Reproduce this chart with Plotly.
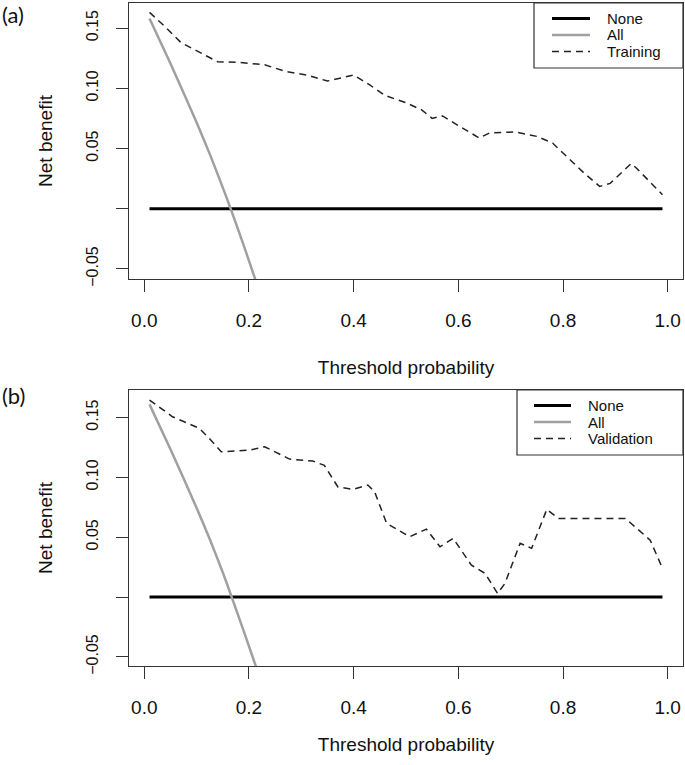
import plotly.graph_objects as go

# ---------------- data ----------------
thr_none = [0.01, 0.99]
nb_none = [0.0, 0.0]

# Treat-all curves
all_x_a = [0.01, 0.05, 0.10, 0.125, 0.15, 0.165, 0.19, 0.215]
all_y_a = [0.158, 0.1205, 0.0715, 0.0455, 0.0175, 0.0, -0.0305, -0.0625]
all_x_b = [0.01, 0.05, 0.10, 0.125, 0.15, 0.167, 0.19, 0.22]
all_y_b = [0.161, 0.1235, 0.0745, 0.0485, 0.0205, 0.0, -0.0285, -0.0665]

# Training model curve
train_x = [0.01, 0.04, 0.07, 0.10, 0.14, 0.18, 0.23, 0.27, 0.31, 0.35, 0.40, 0.43,
           0.46, 0.50, 0.53, 0.55, 0.57, 0.60, 0.64, 0.66, 0.71, 0.75, 0.78, 0.82,
           0.84, 0.87, 0.89, 0.93, 0.94, 0.99]
train_y = [0.163, 0.151, 0.138, 0.131, 0.122, 0.1215, 0.1195, 0.114, 0.111, 0.106, 0.111, 0.103,
           0.094, 0.088, 0.082, 0.075, 0.077, 0.069, 0.0587, 0.063, 0.0637, 0.060, 0.0545, 0.038,
           0.0296, 0.0185, 0.021, 0.0374, 0.0338, 0.0116]

# Validation model curve
valid_x = [0.01, 0.054, 0.105, 0.124, 0.147, 0.201, 0.23, 0.2775, 0.322, 0.344, 0.37, 0.399,
           0.427, 0.44, 0.463, 0.507, 0.539, 0.565, 0.59, 0.625, 0.651, 0.675, 0.689, 0.718,
           0.74, 0.769, 0.791, 0.919, 0.9665, 0.99]
valid_y = [0.1646, 0.1506, 0.141, 0.1326, 0.1214, 0.1228, 0.1256, 0.1153, 0.1136, 0.110, 0.092, 0.090,
           0.0936, 0.088, 0.0616, 0.0504, 0.0568, 0.042, 0.049, 0.0267, 0.0198, 0.003, 0.0114, 0.0449,
           0.0407, 0.0733, 0.0657, 0.0657, 0.0476, 0.024]

x_ticks = [0.0, 0.2, 0.4, 0.6, 0.8, 1.0]
x_ticklabels = ["0.0", "0.2", "0.4", "0.6", "0.8", "1.0"]
y_ticks = [-0.05, 0.0, 0.05, 0.10, 0.15]
y_ticklabels = ["\u22120.05", "", "0.05", "0.10", "0.15"]

legend_names_a = ["None", "All", "Training"]
legend_names_b = ["None", "All", "Validation"]

# ---------------- figure ----------------
W, H = 685, 765
FONT = "Liberation Sans"
BLACK = "#000000"
GRAY = "#A0A0A0"
DASH = "#222222"
AX = "#333333"
TXT = "#111111"


def px_y(p):
    return 1 - p / H


def px_x(p):
    return p / W


fig = go.Figure()

panels = [
    ("x", "y", all_x_a, all_y_a, train_x, train_y, legend_names_a),
    ("x2", "y2", all_x_b, all_y_b, valid_x, valid_y, legend_names_b),
]
styles = [
    dict(color=BLACK, width=3),
    dict(color=GRAY, width=2.5),
    dict(color=DASH, width=1.5, dash="7px,5px"),
]
for xa, ya, ax_, ay_, mx, my, names in panels:
    fig.add_trace(go.Scatter(x=thr_none, y=nb_none, mode="lines", name=names[0],
                             line=styles[0], xaxis=xa, yaxis=ya))
    fig.add_trace(go.Scatter(x=ax_, y=ay_, mode="lines", name=names[1],
                             line=dict(**styles[1], shape="spline", smoothing=0.5),
                             xaxis=xa, yaxis=ya))
    fig.add_trace(go.Scatter(x=mx, y=my, mode="lines", name=names[2],
                             line=styles[2], xaxis=xa, yaxis=ya))

xdom = [px_x(129), px_x(683)]


def xaxis_common(standoff):
    return dict(
        range=[-0.0292, 1.0292], tickvals=x_ticks, ticktext=x_ticklabels,
        ticks="outside", ticklen=12, tickwidth=1, tickcolor=AX,
        showline=True, linecolor=AX, linewidth=1.2, mirror=True,
        showgrid=False, zeroline=False, automargin=False,
        tickfont=dict(family=FONT, size=19, color=TXT),
        ticklabelstandoff=12,
        title=dict(text="Threshold probability", font=dict(family=FONT, size=19, color=TXT),
                   standoff=standoff),
    )


yaxis_common = dict(
    tickvals=y_ticks, ticktext=y_ticklabels, tickangle=-90,
    ticks="outside", ticklen=12, tickwidth=1, tickcolor=AX,
    showline=True, linecolor=AX, linewidth=1.2, mirror=True,
    showgrid=False, zeroline=False, automargin=False,
    tickfont=dict(family=FONT, size=16, color=TXT),
    ticklabelstandoff=12,
    title=dict(text="Net benefit", font=dict(family=FONT, size=19, color=TXT), standoff=25),
)

# Manual legends (R-style compact boxes)
shapes = []
annotations = []
legend_specs = [
    # box left, top, bottom, sample x0, x1, text x, row ys, names
    (534, 3, 68, 552, 590, 606, [18.5, 35, 51.5], legend_names_a),
    (517, 390, 455, 534, 571, 587, [405.5, 422, 438.5], legend_names_b),
]
for bl, bt, bb, s0, s1, tx, rows, names in legend_specs:
    shapes.append(dict(type="rect", xref="paper", yref="paper",
                       x0=px_x(bl), x1=px_x(683), y0=px_y(bb), y1=px_y(bt),
                       line=dict(color=AX, width=1.2), fillcolor="white", layer="above"))
    for i, (ry, nm) in enumerate(zip(rows, names)):
        st = styles[i]
        shapes.append(dict(type="line", xref="paper", yref="paper",
                           x0=px_x(s0), x1=px_x(s1), y0=px_y(ry), y1=px_y(ry),
                           line=dict(color=st["color"], width=st["width"],
                                     dash=st.get("dash", "solid")), layer="above"))
        annotations.append(dict(text=nm, xref="paper", yref="paper", x=px_x(tx), y=px_y(ry),
                                xanchor="left", yanchor="middle", showarrow=False,
                                borderpad=0,
                                font=dict(family=FONT, size=15, color=TXT)))

annotations += [
    dict(text="(a)", xref="paper", yref="paper", x=0.0, y=px_y(14), xanchor="left", yanchor="middle",
         showarrow=False, font=dict(family="Lato", size=22, color=TXT)),
    dict(text="(b)", xref="paper", yref="paper", x=0.0, y=px_y(395), xanchor="left", yanchor="middle",
         showarrow=False, font=dict(family="Lato", size=22, color=TXT)),
]

fig.update_layout(
    width=W, height=H,
    margin=dict(l=0, r=0, t=0, b=0),
    paper_bgcolor="white", plot_bgcolor="white",
    showlegend=False,
    xaxis=dict(domain=xdom, anchor="y", **xaxis_common(30)),
    yaxis=dict(domain=[px_y(279), px_y(3)], anchor="x", range=[-0.0584, 0.1708], **yaxis_common),
    xaxis2=dict(domain=xdom, anchor="y2", **xaxis_common(20)),
    yaxis2=dict(domain=[px_y(666), px_y(390)], anchor="x2", range=[-0.0576, 0.173], **yaxis_common),
    shapes=shapes,
    annotations=annotations,
)

fig.write_html(
    "out.html",
    config={"displayModeBar": False},
    post_script="document.body.style.margin='0';document.body.style.overflow='hidden';",
)
